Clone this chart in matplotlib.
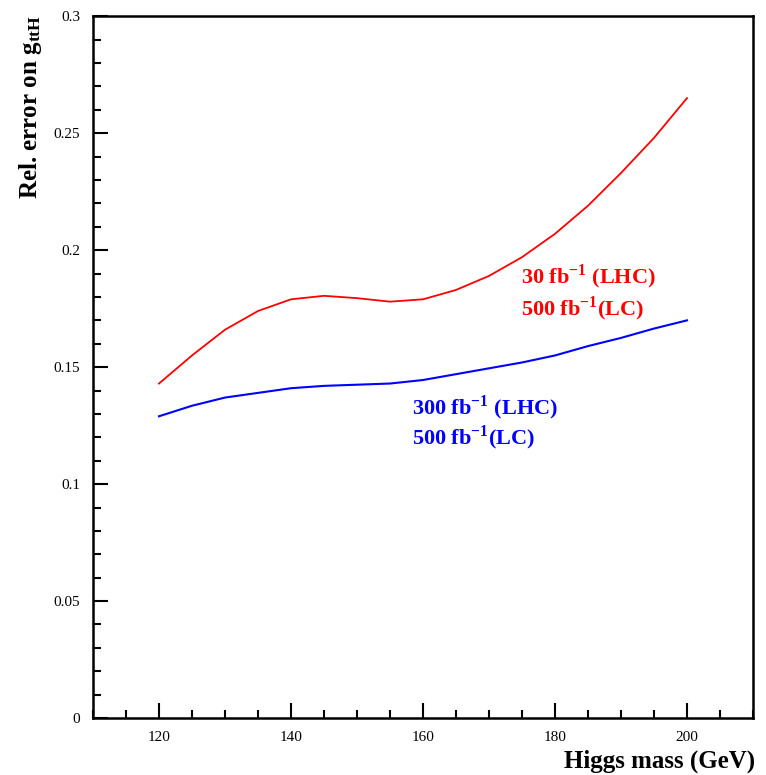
import matplotlib.pyplot as plt
from matplotlib.ticker import MultipleLocator

# Higgs mass (GeV)
mass = [120, 125, 130, 135, 140, 145, 150, 155, 160, 165, 170, 175, 180, 185, 190, 195, 200]

# rel. error on g_ttH, 30 fb-1 (LHC) + 500 fb-1 (LC)
err_30 = [0.143, 0.155, 0.166, 0.174, 0.179, 0.1805, 0.1795, 0.178, 0.179, 0.183,
          0.189, 0.197, 0.207, 0.219, 0.233, 0.248, 0.265]

# rel. error on g_ttH, 300 fb-1 (LHC) + 500 fb-1 (LC)
err_300 = [0.129, 0.1335, 0.137, 0.139, 0.141, 0.142, 0.1425, 0.143, 0.1445, 0.147,
           0.1495, 0.152, 0.155, 0.159, 0.1625, 0.1665, 0.170]

xticks = [120, 140, 160, 180, 200]
yticks = [0, 0.05, 0.1, 0.15, 0.2, 0.25, 0.3]
ytick_labels = ['0', '0.05', '0.1', '0.15', '0.2', '0.25', '0.3']

plt.rcParams['font.family'] = ['Liberation Serif', 'DejaVu Serif']
plt.rcParams['mathtext.fontset'] = 'custom'
plt.rcParams['mathtext.rm'] = 'Liberation Serif'
plt.rcParams['mathtext.bf'] = 'Liberation Serif:bold'

fig = plt.figure(figsize=(7.66, 7.75), dpi=100)
ax = fig.add_axes([0.1214, 0.0735, 0.983 - 0.1214, 0.979 - 0.0735])

ax.plot(mass, err_30, color='red', lw=1.3)
ax.plot(mass, err_300, color='blue', lw=1.5)

ax.set_xlim(110, 210)
ax.set_ylim(0, 0.3)
ax.set_xticks(xticks)
ax.set_xticklabels([str(t) for t in xticks])
ax.set_yticks(yticks)
ax.set_yticklabels(ytick_labels)
ax.xaxis.set_minor_locator(MultipleLocator(5))
ax.yaxis.set_minor_locator(MultipleLocator(0.01))
ax.tick_params(which='both', direction='in', top=False, right=False, labelsize=11, width=1.5)
ax.tick_params(which='major', length=11, pad=9)
ax.tick_params(which='minor', length=6)
for s in ax.spines.values():
    s.set_linewidth(1.8)

ax.text(174.9, 0.1885, r'30 fb$^{\mathbf{-1}}$ (LHC)', color='red', fontsize=16,
        fontweight='bold', va='center', ha='left')
ax.text(174.9, 0.1750, r'500 fb$^{\mathbf{-1}}$(LC)', color='red', fontsize=16,
        fontweight='bold', va='center', ha='left')
ax.text(158.3, 0.1325, r'300 fb$^{\mathbf{-1}}$ (LHC)', color='blue', fontsize=16,
        fontweight='bold', va='center', ha='left')
ax.text(158.3, 0.1200, r'500 fb$^{\mathbf{-1}}$(LC)', color='blue', fontsize=16,
        fontweight='bold', va='center', ha='left')

fig.text(0.022, 0.981, r'Rel. error on $\mathbf{g_{ttH}}$', rotation=90, fontsize=18,
         fontweight='bold', ha='left', va='top')
fig.text(0.986, 0.003, 'Higgs mass (GeV)', fontsize=18, fontweight='bold',
         ha='right', va='bottom')

fig.savefig('out.png', dpi=100)
